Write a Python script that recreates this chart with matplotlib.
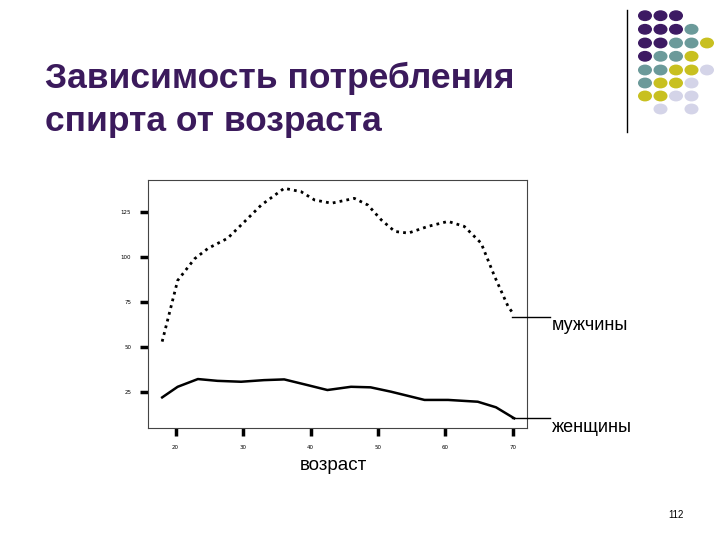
import matplotlib.pyplot as plt
from matplotlib.lines import Line2D

# age vs. alcohol consumption
men_age = [18.0, 20.3, 22.8, 24.8, 27.7, 30.2, 32.7, 36.1, 38.6, 40.6, 43.1, 46.5,
           48.5, 50.5, 52.5, 54.5, 57.4, 60.4, 62.8, 65.3, 67.3, 69.3, 70.2]
men_val = [53, 87, 99, 104.8, 110.4, 119.6, 128.9, 138.2, 136.3, 131.7, 129.9, 132.6,
           128.9, 120.6, 114.2, 113.3, 117, 119.8, 117, 107.7, 89.2, 72.5, 67.8]
women_age = [18.0, 20.3, 23.3, 26.2, 29.7, 33.1, 36.1, 39.6, 42.5, 46.0, 48.9, 51.9,
             56.9, 60.4, 64.8, 67.5, 70.2]
women_val = [22, 27.9, 32.2, 31.2, 30.7, 31.6, 32, 28.8, 26.1, 27.9, 27.6, 25.2,
             20.6, 20.6, 19.6, 16.5, 10.4]
yticks = [25, 50, 75, 100, 125]
xticks = [20, 30, 40, 50, 60, 70]

# decorative dot grid in the top-right corner
P, T, Y, L = '#3d1a63', '#6b9a9a', '#c8c020', '#d4d4e8'
dot_rows = [[P, P, P], [P, P, P, T], [P, P, T, T, Y], [P, T, T, Y],
            [T, T, Y, Y, L], [T, Y, Y, L], [Y, Y, L, L], [None, L, None, L]]

W, H = 720, 540
fig = plt.figure(figsize=(7.2, 5.4), dpi=100)
fig.patch.set_facecolor('white')

ax = fig.add_axes([148 / W, 1 - 428 / H, 379 / W, 248 / H])
ax.plot(men_age, men_val, color='black', linestyle=(0, (1, 1.5)), linewidth=2)
ax.plot(women_age, women_val, color='black', linewidth=1.8)
ax.set_xlim(15.9, 72.1)
ax.set_ylim(5, 142.8)
ax.set_xticks(xticks)
ax.set_yticks(yticks)
ax.tick_params(labelsize=4, width=2.5, length=6, direction='out', pad=6)
for s in ax.spines.values():
    s.set_linewidth(0.8)
    s.set_color('#444444')

# label leader lines
fig.add_artist(Line2D([512 / W, 550 / W], [1 - 317 / H] * 2, color='black', lw=1))
fig.add_artist(Line2D([512 / W, 550 / W], [1 - 418 / H] * 2, color='black', lw=1))
fig.text(552 / W, 1 - 326 / H, 'мужчины', fontsize=13, family='Liberation Sans', va='center')
fig.text(552 / W, 1 - 427 / H, 'женщины', fontsize=13, family='Liberation Sans', va='center')
fig.text(333 / W, 1 - 465 / H, 'возраст', fontsize=13.5, family='Liberation Sans', ha='center', va='center')

fig.text(45 / W, 1 - 78 / H, 'Зависимость потребления', fontsize=25.5, fontweight='bold',
         family='Liberation Sans', color='#3b1a5c', va='center')
fig.text(45 / W, 1 - 122 / H, 'спирта от возраста', fontsize=25.5, fontweight='bold',
         family='Liberation Sans', color='#3b1a5c', va='center')
fig.text(668 / W, 1 - 515 / H, '112', fontsize=7, family='Liberation Sans', va='center')

fig.add_artist(Line2D([627 / W] * 2, [1 - 10 / H, 1 - 132 / H], color='black', lw=1))
col_x = [645, 660.5, 676, 691.5, 707]
row_y = [15.7, 29.3, 43, 56.3, 70, 83, 96, 109]
for ry, row in zip(row_y, dot_rows):
    for cx, c in zip(col_x, row):
        if c:
            fig.add_artist(plt.Circle((cx / W, 1 - ry / H), 6.3 / W, color=c,
                                      transform=fig.transFigure))

fig.savefig('out.png', dpi=100)
